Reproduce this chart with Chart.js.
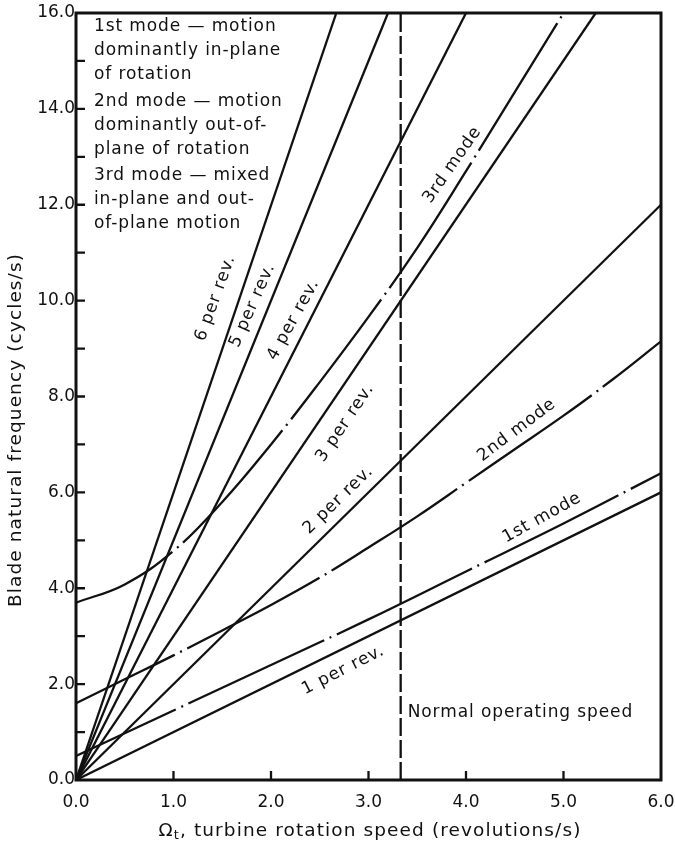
<!DOCTYPE html>
<html>
<head>
<meta charset="utf-8">
<script src="https://cdn.jsdelivr.net/npm/chart.js@4.4.1/dist/chart.umd.min.js"></script>
<style>
  html, body { margin: 0; padding: 0; background: #fff; }
  #wrap { width: 675px; height: 845px; }
</style>
</head>
<body>
<div id="wrap"><canvas id="bladeChart" width="675" height="845"></canvas></div>
<script>
// n per rev. lines, from the origin to where they leave the frame
const perRevLabels = ["1 per rev.", "2 per rev.", "3 per rev.", "4 per rev.", "5 per rev.", "6 per rev."];
const perRevEndX   = [6.0, 6.0, 5.33, 4.0, 3.2, 2.67];
const perRevEndY   = [6.0, 12.0, 16.0, 16.0, 16.0, 16.0];

// blade modes
const mode1X = [0, 1, 2, 3, 4, 5, 6];
const mode1Y = [0.5, 1.45, 2.4, 3.35, 4.35, 5.35, 6.4];
const mode2X = [0, 0.5, 1, 1.5, 2, 2.5, 3, 3.5, 4, 4.5, 5, 5.5, 6];
const mode2Y = [1.6, 2.1, 2.6, 3.12, 3.65, 4.22, 4.85, 5.5, 6.2, 6.9, 7.6, 8.35, 9.15];
const mode3X = [0, 0.5, 1, 1.5, 2, 2.5, 3, 3.5, 4, 4.5, 5.0];
const mode3Y = [3.7, 4.08, 4.78, 5.8, 7.0, 8.3, 9.66, 11.1, 12.7, 14.35, 16.0];

const opSpeed = 3.33;
const opLabel = "Normal operating speed";

// labels written along the lines
const lineLabels = ["6 per rev.", "5 per rev.", "4 per rev.", "3 per rev.", "2 per rev.", "1 per rev.", "3rd mode", "2nd mode", "1st mode"];
const labelX     = [1.43, 1.81, 2.23, 2.76, 2.69, 2.74, 3.86, 4.52, 4.78];
const labelY     = [10.05, 9.9, 9.6, 7.45, 5.84, 2.29, 12.83, 7.3, 5.47];
const labelAngle = [-70, -66, -61, -56, -44, -27, -55, -37, -29];

const notes = [
  ["1st mode \u2014 motion", "dominantly in-plane", "of rotation"],
  ["2nd mode \u2014 motion", "dominantly out-of-", "plane of rotation"],
  ["3rd mode \u2014 mixed", "in-plane and out-", "of-plane motion"]
];

const yTitle = "Blade natural frequency (cycles/s)";
const xTitle = ", turbine rotation speed (revolutions/s)";

const FONT = '"DejaVu Sans", sans-serif';
const INK = "#111";

function pts(xs, ys) {
  return xs.map((x, i) => ({ x, y: ys[i] }));
}

const datasets = [];
perRevLabels.forEach((name, i) => {
  datasets.push({
    label: name,
    data: [{ x: 0, y: 0 }, { x: perRevEndX[i], y: perRevEndY[i] }],
    borderColor: INK, borderWidth: 2.3, pointRadius: 0
  });
});
[[mode1X, mode1Y, "1st mode"], [mode2X, mode2Y, "2nd mode"], [mode3X, mode3Y, "3rd mode"]].forEach(([xs, ys, name]) => {
  datasets.push({
    label: name,
    data: pts(xs, ys),
    borderColor: INK, borderWidth: 2.3, pointRadius: 0,
    tension: 0.4,
    borderDash: [150, 6, 2, 6], borderDashOffset: 40
  });
});
datasets.push({
  label: opLabel,
  data: [{ x: opSpeed, y: 0 }, { x: opSpeed, y: 16 }],
  borderColor: INK, borderWidth: 2.3, pointRadius: 0,
  borderDash: [18, 4]
});

const decorations = {
  id: "decorations",
  afterDatasetsDraw(chart) {
    const { ctx, chartArea: a, scales: { x, y } } = chart;
    ctx.save();
    ctx.strokeStyle = INK;
    ctx.fillStyle = INK;

    // inward tick marks
    ctx.lineWidth = 2.3;
    ctx.beginPath();
    y.ticks.forEach(t => {
      if (t.value <= 0 || t.value >= 16) return;
      const py = y.getPixelForValue(t.value);
      ctx.moveTo(a.left, py);
      ctx.lineTo(a.left + 9, py);
    });
    x.ticks.forEach(t => {
      if (t.value <= 0 || t.value >= 6) return;
      const px = x.getPixelForValue(t.value);
      ctx.moveTo(px, a.bottom);
      ctx.lineTo(px, a.bottom - 9);
    });
    ctx.stroke();

    // frame
    ctx.lineWidth = 3;
    ctx.strokeRect(a.left, a.top, a.width, a.height);

    ctx.font = `17px ${FONT}`;
    ctx.letterSpacing = "0.9px";
    ctx.textBaseline = "middle";

    // labels along lines
    ctx.textAlign = "center";
    lineLabels.forEach((txt, i) => {
      ctx.save();
      ctx.translate(x.getPixelForValue(labelX[i]), y.getPixelForValue(labelY[i]));
      ctx.rotate(labelAngle[i] * Math.PI / 180);
      ctx.fillText(txt, 0, 0);
      ctx.restore();
    });

    // operating speed note
    ctx.textAlign = "left";
    ctx.fillText(opLabel, x.getPixelForValue(opSpeed) + 7, y.getPixelForValue(1.4));

    // mode description block
    notes.forEach((group, g) => {
      group.forEach((line, k) => {
        ctx.fillText(line, a.left + 18, a.top + 14 + g * 74.5 + k * 24);
      });
    });

    // axis titles
    const TF = `18.5px ${FONT}`;
    ctx.font = TF;
    ctx.letterSpacing = "1.1px";

    ctx.save();
    ctx.translate(16, 430);
    ctx.rotate(-Math.PI / 2);
    ctx.textAlign = "center";
    ctx.fillText(yTitle, 0, 0);
    ctx.restore();

    // x title with subscript t
    const omegaW = ctx.measureText("\u03A9").width;
    ctx.font = `13px ${FONT}`;
    const subW = ctx.measureText("t").width;
    ctx.font = TF;
    const restW = ctx.measureText(xTitle).width;
    let sx = 370 - (omegaW + subW + restW) / 2;
    const ty = 831;
    ctx.textAlign = "left";
    ctx.fillText("\u03A9", sx, ty);
    sx += omegaW;
    ctx.font = `13px ${FONT}`;
    ctx.fillText("t", sx, ty + 5);
    sx += subW;
    ctx.font = TF;
    ctx.fillText(xTitle, sx, ty);

    ctx.restore();
  }
};

new Chart(document.getElementById("bladeChart"), {
  type: "line",
  data: { datasets },
  options: {
    responsive: false,
    animation: false,
    events: [],
    layout: { padding: { top: 13, right: 14, bottom: 0, left: 0 } },
    plugins: { legend: { display: false }, tooltip: { enabled: false } },
    scales: {
      x: {
        type: "linear", min: 0, max: 6,
        ticks: {
          stepSize: 1, padding: 12, color: INK, maxRotation: 0,
          font: { family: FONT, size: 17 },
          callback: v => v.toFixed(1)
        },
        grid: { drawOnChartArea: false, drawTicks: false },
        border: { display: false },
        afterFit: s => { s.height = 65; s.paddingLeft = 0; s.paddingRight = 0; }
      },
      y: {
        type: "linear", min: 0, max: 16,
        ticks: {
          stepSize: 1, padding: 1, color: INK,
          font: { family: FONT, size: 17 },
          callback: v => (v % 2 === 0 ? v.toFixed(1) : "")
        },
        grid: { drawOnChartArea: false, drawTicks: false },
        border: { display: false },
        afterFit: s => { s.width = 76; s.paddingTop = 0; s.paddingBottom = 0; }
      }
    }
  },
  plugins: [decorations]
});
</script>
</body>
</html>
